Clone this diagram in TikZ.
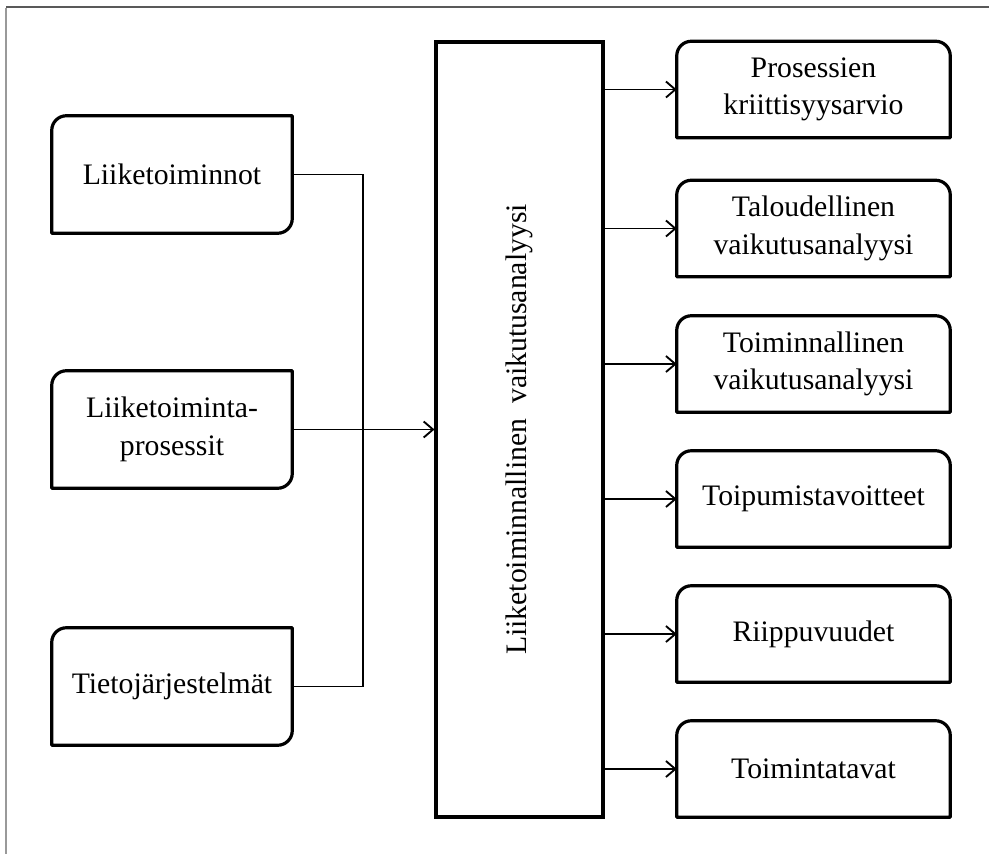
\documentclass[tikz,border=0pt]{standalone}
\usepackage{fontspec}
\setmainfont{Liberation Serif}
\usetikzlibrary{arrows.meta}

\tikzset{
    leftbox/.style={minimum width=180pt, minimum height=87.75pt, align=center, inner sep=0pt},
    rightbox/.style={minimum width=204.75pt, minimum height=72pt, align=center, inner sep=0pt},
    mainbox/.style={draw, line width=2.3pt, minimum width=125.25pt, minimum height=581.25pt},
    outline/.style={line width=2.4pt, line join=round},
    link/.style={line width=1.4pt},
    arr/.style={line width=1.4pt, -{Straight Barb[length=7pt,width=12pt,line width=1.4pt]}}
}

\begin{document}
\begin{tikzpicture}[x=0.75pt, y=0.75pt, font=\fontsize{22.3}{28}\selectfont]

        \useasboundingbox (0,0) rectangle (989,-854);
        \draw [black!65, line width=1.1pt] (6,-7) -- (989,-7);
        \draw [black!40, line width=1.4pt] (6,-8) -- (6,-854);

        \node [leftbox] (ops) at (172,-174.5) {Liiketoiminnot};
        \node [leftbox] (proc) at (172,-429.5) {Liiketoiminta-\\prosessit};
        \node [leftbox] (sys) at (172,-686.5) {Tietojärjestelmät};

        \node [mainbox] (bia) at (519.5,-429.5) {};
        \node [rotate=90] (biatext) at (bia.center) {Liiketoiminnallinen\hspace{0.5em}vaikutusanalyysi};

        \node [rightbox] (crit) at (813.5,-89.5) {Prosessien\\kriittisyysarvio};
        \node [rightbox] (fin) at (813.5,-228.5) {Taloudellinen\\vaikutusanalyysi};
        \node [rightbox] (oper) at (813.5,-364) {Toiminnallinen\\vaikutusanalyysi};
        \node [rightbox] (goals) at (813.5,-499) {Toipumistavoitteet};
        \node [rightbox] (deps) at (813.5,-634) {Riippuvuudet};
        \node [rightbox] (ways) at (813.5,-769) {Toimintatavat};

        \foreach \n in {ops,proc,sys}
            \draw [outline] ([yshift=-11pt]\n.north west) arc [start angle=180, end angle=90, radius=11pt]
                -- (\n.north east) -- ([yshift=11pt]\n.south east) arc [start angle=0, end angle=-90, radius=11pt]
                -- (\n.south west) -- cycle;

        \foreach \n in {crit,fin,oper,goals,deps,ways}
            \draw [outline] ([yshift=-11pt]\n.north west) arc [start angle=180, end angle=90, radius=11pt]
                -- ([xshift=-11pt]\n.north east) arc [start angle=90, end angle=0, radius=11pt]
                -- (\n.south east) -- (\n.south west) -- cycle;

        \coordinate (join) at (363,-429.5);
        \draw [link] (ops.east) -| (join);
        \draw [link] (sys.east) -| (join);
        \draw [arr] (proc.east) -- (bia.west);

        \foreach \n in {crit,fin,oper,goals,deps,ways}
            \draw [arr] (bia.east |- \n.west) -- (\n.west);

    \end{tikzpicture}
\end{document}
